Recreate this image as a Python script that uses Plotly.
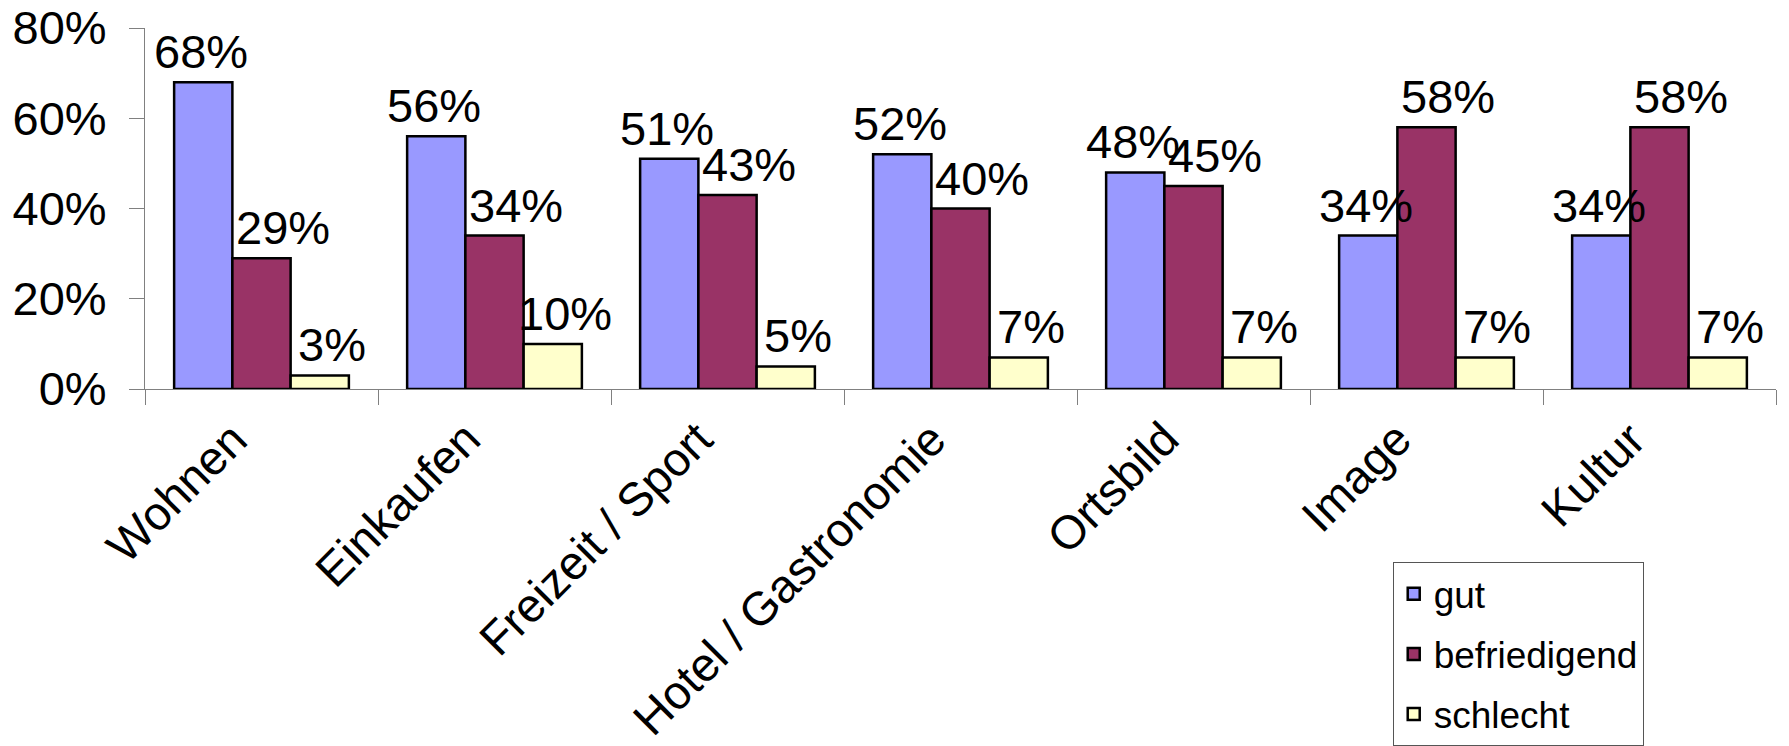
import plotly.graph_objects as go

# Data
categories = ["Wohnen", "Einkaufen", "Freizeit / Sport", "Hotel / Gastronomie",
              "Ortsbild", "Image", "Kultur"]
gut = [68, 56, 51, 52, 48, 34, 34]
befriedigend = [29, 34, 43, 40, 45, 58, 58]
schlecht = [3, 10, 5, 7, 7, 7, 7]
y_ticks = [0, 20, 40, 60, 80]
y_ticktext = ["0%", "20%", "40%", "60%", "80%"]

FONT = "Liberation Sans, Arial, sans-serif"
FS = 47

# the page body adds an 8px margin, so the figure is 8px smaller than the window
W, H = 1781, 738
M_L, M_R, M_T, M_B = 137, 13, 20, 357
BARGAP = 0.25

# pixel width of one bar, used to place the value labels over their bar
cat_px = (W - M_L - M_R) / len(categories)
bar_px = cat_px * (1 - BARGAP) / 3

# (name, values, colour, horizontal nudge of the value label in px)
series = [
    ("gut", gut, "#9999FF", -bar_px - 2),
    ("befriedigend", befriedigend, "#993366", 21),
    ("schlecht", schlecht, "#FFFFCC", bar_px + 12),
]

fig = go.Figure()
for name, values, color, nudge in series:
    fig.add_trace(go.Bar(
        x=categories,
        y=values,
        name=name,
        legendgroup=name,
        marker=dict(color=color, line=dict(color="black", width=2.5)),
    ))
    # value labels
    for cat, v in zip(categories, values):
        fig.add_annotation(
            x=cat, y=v, xref="x", yref="y",
            text=f"{v}%", showarrow=False,
            xanchor="center", yanchor="bottom",
            xshift=nudge, yshift=2,
            font=dict(size=FS, family=FONT, color="black"),
        )

# Rotated category labels below the axis
for cat in categories:
    fig.add_annotation(
        x=cat, y=0, xref="x", yref="y",
        text=cat, showarrow=False, textangle=-45,
        xanchor="right", yanchor="top",
        xshift=-2, yshift=-20,
        font=dict(size=FS, family=FONT, color="black"),
    )

fig.update_layout(
    width=W,
    height=H,
    margin=dict(l=M_L, r=M_R, t=M_T, b=M_B, autoexpand=False),
    paper_bgcolor="white",
    plot_bgcolor="white",
    barmode="group",
    bargap=BARGAP,
    bargroupgap=0,
    font=dict(family=FONT, color="black"),
    showlegend=True,
    legend=dict(
        x=0.765, y=-0.48, xanchor="left", yanchor="top",
        bordercolor="#555555", borderwidth=1,
        font=dict(size=37, family=FONT),
        tracegroupgap=9,
        traceorder="grouped",
    ),
)

fig.update_xaxes(
    type="category",
    range=[-0.5, len(categories) - 0.5],
    automargin=False,
    showline=True, linecolor="#808080", linewidth=1,
    ticks="outside", tickson="boundaries", ticklen=15, tickcolor="#808080",
    showticklabels=False,
    showgrid=False,
)
fig.update_yaxes(
    range=[0, 80],
    automargin=False,
    tickvals=y_ticks,
    ticktext=y_ticktext,
    ticklabeloverflow="allow",
    showline=True, linecolor="#808080", linewidth=1,
    ticks="outside", ticklen=15, tickcolor="#808080",
    tickfont=dict(size=FS, family=FONT, color="black"),
    ticklabelstandoff=13,
    showgrid=False, zeroline=False,
)

fig.write_html("out.html")
